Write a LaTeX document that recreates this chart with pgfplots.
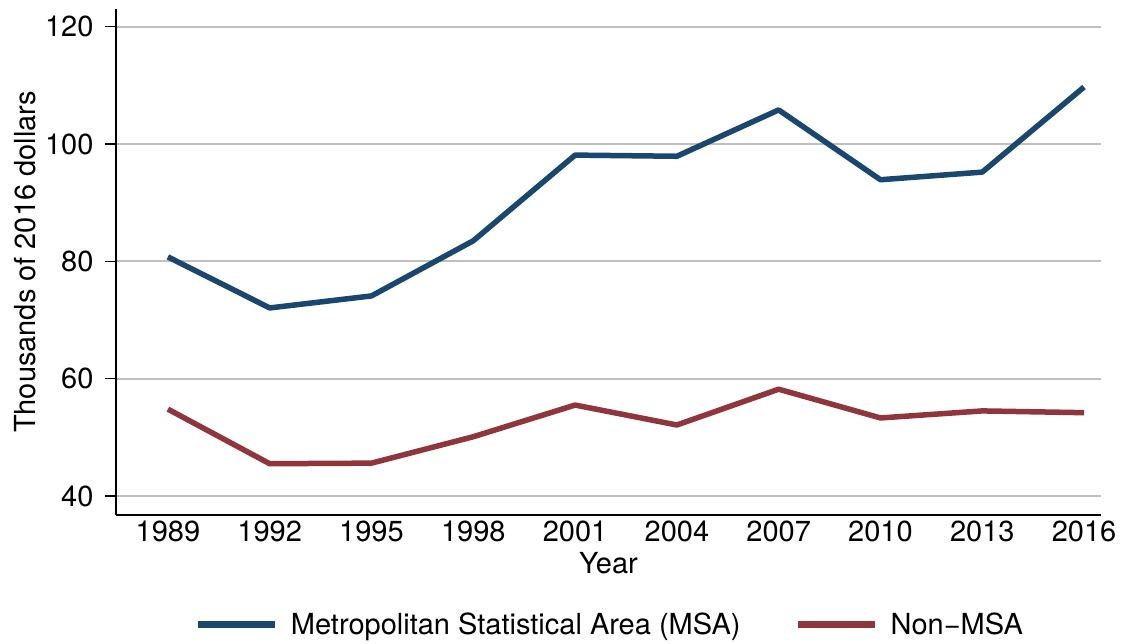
\documentclass[border=0pt]{standalone}
\usepackage{pgfplots}
\pgfplotsset{compat=1.18}
\usepackage{fontspec}
\setmainfont{TeX Gyre Heros}
\definecolor{msa}{RGB}{26,71,111}
\definecolor{nonmsa}{RGB}{144,53,59}
\definecolor{gridgray}{RGB}{192,192,192}
\newcommand{\bigfont}{\fontsize{29}{35}\selectfont}
\begin{document}
\begin{tikzpicture}[x=1pt,y=1pt]
\path[use as bounding box] (0,0) rectangle (1121,643);
\begin{axis}[
  at={(116pt,128pt)}, anchor=south west,
  scale only axis, width=985pt, height=506pt,
  xmin=1987.47, xmax=2016.5, ymin=36.76, ymax=123,
  axis lines*=left,
  axis line style={line width=1.6pt, black},
  xtick={1989,1992,...,2016},
  ytick={40,60,80,100,120},
  x tick label style={/pgf/number format/1000 sep={}},
  /pgf/number format/assume math mode=true,
  tick label style={font=\bigfont, black},
  xtick style={draw=none},
  ytick style={line width=1.4pt, black},
  tick align=outside,
  major tick length=11pt,
  ymajorgrids=true,
  major grid style={gridgray, line width=1.8pt},
  xticklabel style={yshift=9pt},
  yticklabel style={xshift=-8pt},
  xlabel={Year},
  ylabel={Thousands of 2016 dollars},
  label style={font=\bigfont},
  xlabel style={at={(axis description cs:0.5,-0.095)}, anchor=center},
  ylabel style={at={(axis description cs:-0.0924,0.5)}, anchor=center, rotate=0},
  legend style={draw=none, fill=none, at={(axis description cs:0.5015,-0.217)}, anchor=center,
    legend columns=2, font=\bigfont,
    /tikz/every odd column/.append style={column sep=10pt},
    /tikz/every even column/.append style={column sep=52pt},
    legend cell align=left},
  legend image code/.code={\draw[#1, line width=7pt] (0pt,0pt) -- (77pt,0pt);},
]
\addplot[msa, line width=5.5pt, line join=round] coordinates {
(1989,80.75) (1992,72.05) (1995,74.1) (1998,83.5) (2001,98.1) (2004,97.9) (2007,105.8) (2010,93.9) (2013,95.2) (2016,109.7)};
\addlegendentry{Metropolitan Statistical Area (MSA)}
\addplot[nonmsa, line width=5.5pt, line join=round] coordinates {
(1989,54.8) (1992,45.5) (1995,45.6) (1998,50.1) (2001,55.5) (2004,52.1) (2007,58.2) (2010,53.3) (2013,54.5) (2016,54.2)};
\addlegendentry{Non−MSA}
\end{axis}
\end{tikzpicture}
\end{document}
